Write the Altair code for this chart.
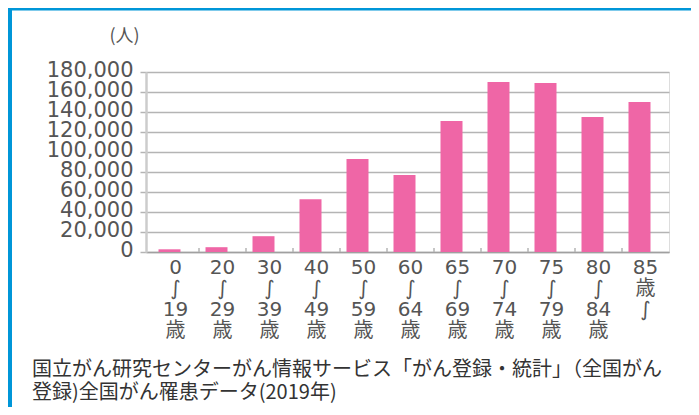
import altair as alt
import pandas as pd

# ---- data ----
age_labels = ["0|∫|19|歳", "20|∫|29|歳", "30|∫|39|歳", "40|∫|49|歳", "50|∫|59|歳",
              "60|∫|64|歳", "65|∫|69|歳", "70|∫|74|歳", "75|∫|79|歳", "80|∫|84|歳",
              "85|歳|∫"]
patients = [2700, 4800, 15800, 52800, 93000, 77000, 131000, 170000, 169000, 135000, 150000]
y_ticks = [0, 20000, 40000, 60000, 80000, 100000, 120000, 140000, 160000, 180000]
unit_label = "(人)"
source_note = ["国立がん研究センターがん情報サービス「がん登録・統計」（全国がん",
               "登録)全国がん罹患データ(2019年)"]

PINK = "#EF66A6"
BLUE = "#0096D8"
NUM_FONT = "DejaVu Sans, Noto Sans CJK JP"
JP_FONT = "Noto Sans CJK JP"

df = pd.DataFrame({"age": age_labels, "patients": patients})
tick_df = pd.DataFrame({"age": age_labels[1:]})

W, H = 523, 180

x_scale = alt.Scale(domain=age_labels, paddingInner=0, paddingOuter=6 / 94, align=1)
y_scale = alt.Scale(domain=[0, 180000], nice=False)

bars = alt.Chart(df).mark_bar(width=22, xOffset=-6, color=PINK).encode(
    x=alt.X("age:N", sort=age_labels, scale=x_scale,
            axis=alt.Axis(title=None, ticks=False, labelAngle=0, labelPadding=5,
                          labelExpr="split(datum.label, '|')", labelLineHeight=21.3,
                          labelFont=NUM_FONT, labelFontSize=20, labelColor="#555555",
                          labelBaseline="top", domainColor="#a0a0a0", domainWidth=1.5,
                          grid=False)),
    y=alt.Y("patients:Q", scale=y_scale,
            axis=alt.Axis(values=y_ticks, format=",d", title=unit_label,
                          titleAngle=0, titleX=-22, titleY=-36, titleAlign="center",
                          titleBaseline="middle", titleFont=JP_FONT, titleFontSize=18,
                          titleFontWeight="normal", titleColor="#555555",
                          labelFont=NUM_FONT, labelFontSize=21, labelColor="#555555",
                          labelOverlap=False, labelFlush=False, labelPadding=7,
                          labelOffset=-2,
                          tickSize=6, tickColor="#b4b4b4", tickWidth=1.5,
                          grid=True, gridColor="#b4b4b4", gridWidth=1.5,
                          domainColor="#cccccc", domainWidth=2.5)),
)

xticks = alt.Chart(tick_df).mark_rule(color="#b4b4b4", strokeWidth=1.5).encode(
    x=alt.X("age:N", sort=age_labels, scale=x_scale, bandPosition=0),
    y=alt.value(H - 4),
    y2=alt.value(H),
)

frame_top = alt.Chart(alt.Data(values=[{"k": 1}])).mark_rect(color=BLUE).encode(
    x=alt.value(-140), x2=alt.value(560), y=alt.value(-70), y2=alt.value(-61.5)
)
frame_left = alt.Chart(alt.Data(values=[{"k": 1}])).mark_rect(color=BLUE).encode(
    x=alt.value(-140), x2=alt.value(-134), y=alt.value(-70), y2=alt.value(400)
)

note = alt.Chart(alt.Data(values=[{"k": 1}])).mark_text(
    text="\n".join(source_note), lineBreak="\n", lineHeight=23,
    align="left", baseline="middle", font=JP_FONT, fontSize=20, color="#333333"
).encode(x=alt.value(-114), y=alt.value(298))

chart = alt.layer(frame_top, frame_left, bars, xticks, note).properties(
    width=W, height=H,
    autosize=alt.AutoSizeParams(type="none"),
    padding={"left": 138, "top": 64, "right": 22, "bottom": 155},
).configure_view(stroke=None).configure(background="white")

chart.save("out.html", embed_options={"renderer": "svg", "actions": False})
